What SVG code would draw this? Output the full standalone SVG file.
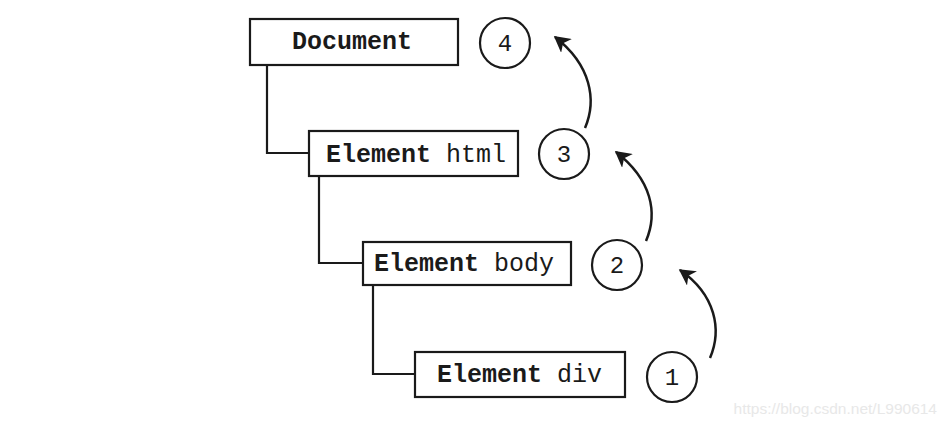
<svg xmlns="http://www.w3.org/2000/svg" width="947" height="425" viewBox="0 0 947 425">
<style>
.box{fill:#fff;stroke:#1a1a1a;stroke-width:2.2}
.circ{fill:#fff;stroke:#1a1a1a;stroke-width:2.2}
.t{font-family:"Liberation Mono",monospace;font-size:25px;fill:#1a1a1a}
.b{font-weight:bold}
.n{font-family:"Liberation Mono",monospace;font-size:24px;fill:#1a1a1a;text-anchor:middle}
.ln{fill:none;stroke:#1a1a1a;stroke-width:2.2}
.arr{fill:none;stroke:#1a1a1a;stroke-width:2.5;marker-end:url(#ah)}
</style>
<defs>
<marker id="ah" viewBox="0 0 12 12" refX="10" refY="6" markerWidth="7" markerHeight="7" markerUnits="strokeWidth" orient="auto">
<path d="M0,0 L11,6 L0,12 L3,6 Z" fill="#1a1a1a"/>
</marker>
</defs>
<rect width="947" height="425" fill="#fff"/>
<g id="connectors">
<path class="ln" d="M267,65 V153 H309"/>
<path class="ln" d="M319,176 V263 H363"/>
<path class="ln" d="M373,285 V374 H415"/>
<path class="arr" d="M710,358 C722,330 716,295 680,270"/>
<path class="arr" d="M646,241 C658,213 652,180 616,152"/>
<path class="arr" d="M585,128 C597,100 591,65 555,37"/>
</g>
<g id="document">
<rect class="box" x="250" y="19" width="208" height="46"/>
<text class="t b" x="292" y="49">Document</text>
</g>
<g id="html">
<rect class="box" x="309" y="131" width="209" height="45"/>
<text class="t" x="326" y="162"><tspan class="b">Element</tspan> html</text>
</g>
<g id="body">
<rect class="box" x="363" y="242" width="208" height="43"/>
<text class="t" x="374" y="271"><tspan class="b">Element</tspan> body</text>
</g>
<g id="div">
<rect class="box" x="415" y="352" width="210" height="45"/>
<text class="t" x="437" y="382"><tspan class="b">Element</tspan> div</text>
</g>
<g id="c4"><circle class="circ" cx="505" cy="43" r="25"/><text class="n" x="505" y="51">4</text></g>
<g id="c3"><circle class="circ" cx="564" cy="154" r="25"/><text class="n" x="564" y="162">3</text></g>
<g id="c2"><circle class="circ" cx="617" cy="265" r="25"/><text class="n" x="617" y="273">2</text></g>
<g id="c1"><circle class="circ" cx="672" cy="377" r="25"/><text class="n" x="672" y="385">1</text></g>
<text x="937" y="414" text-anchor="end" font-family="Liberation Sans, Arial, sans-serif" font-size="15.5" fill="#e8e8e8">https://blog.csdn.net/L990614</text>
</svg>
